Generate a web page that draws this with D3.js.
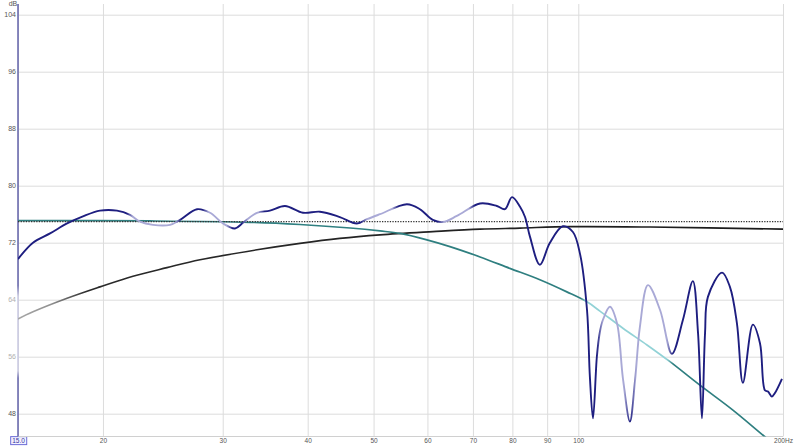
<!DOCTYPE html>
<html><head><meta charset="utf-8">
<script src="https://cdn.jsdelivr.net/npm/d3@7"></script>
<style>
body{margin:0;background:#fff}
svg{display:block}
text{font-family:"Liberation Sans",Arial,sans-serif}
</style>
</head><body>
<svg id="c" width="800" height="447"></svg>
<script>
// ---------- data ----------
const xTicks = [15, 20, 30, 40, 50, 60, 70, 80, 90, 100, 200];
const xTickLabels = ["15.0", "20", "30", "40", "50", "60", "70", "80", "90", "100", "200Hz"];
const yTicks = [48, 56, 64, 72, 80, 88, 96, 104];
const yUnit = "dB";

const mainFreq = [15,15.78,16.72,17.71,18.69,19.8,20.97,21.92,22.67,23.69,25.1,25.96,27.5,28.74,30.03,31.27,32.13,33.69,35.2,37.04,39.37,41.7,44.6,47.26,48.9,51.1,55.98,58.5,61.1,63.2,66.3,71.7,75.9,78,79.9,82.1,83.5,84.9,87.8,90.8,94.9,98.2,100.6,103,104,105.1,106.5,107.6,108.7,111.3,114,116.3,119.1,121.2,123.2,126.6,131.9,137.3,142.5,147.4,150,152,153.6,155.1,162.7,167.1,171.1,174.6,180.6,185,188.1,190.1,192.6,194.6,199.3];
const mainDb = [69.7,72.0,73.3,74.7,75.7,76.5,76.5,75.9,74.95,74.5,74.5,75.2,76.7,76.2,74.7,74.0,74.8,76.2,76.5,77.15,76.2,76.35,75.6,74.7,75.3,76.0,77.4,76.7,75.2,74.9,75.75,77.5,77.15,76.7,78.4,77.05,75.6,72.85,68.9,71.95,74.3,73.5,70.4,62.55,53.2,47.35,56.0,59.5,61.15,63.0,60.7,53.0,46.9,52.7,60.2,66.05,62.55,56.4,61.15,66.6,59.3,47.35,59.3,64.4,67.8,65.8,60.7,52.35,60.5,57.9,51.3,51.1,50.4,50.9,52.9];

const tealFreq = [15,23.45,32.9,38.97,46.2,51.1,54.7,59.9,64.75,71.7,79.3,87.8,96.2,103,107.6,116.3,126.2,136.4,150.96,168.8,187.5,200];
const tealDb = [75.1,75.05,74.86,74.55,74.06,73.65,73.3,72.4,71.45,70.0,68.4,66.8,65.1,63.7,62.4,60.0,57.65,55.3,52.0,48.5,44.87,42.7];

const blackFreq = [15,15.78,17.71,19.8,22.14,24.84,27.78,33.69,38.97,44.6,51.1,61.1,71.7,82.1,97.2,127.5,200];
const blackDb = [61.3,62.3,64.2,65.8,67.3,68.5,69.6,71.0,71.9,72.6,73.1,73.55,73.9,74.05,74.25,74.2,73.9];

const refLevel = 74.95;

// ---------- styling ----------
const mainLight = [[21.9,25.8],[28.3,30.7],[32.3,34.2],[48.4,53.8],[62.8,69.7],[107.6,118],[120.3,136.4]];
const tealLight = [[101.8,136.4]];
const fadedYLabels = [64, 56];

// ---------- layout ----------
const X0 = 18, X1 = 783, Y0 = 4, Y1 = 436.5;
const x = d3.scaleLog().domain([15, 200]).range([X0, X1]);
const y = d3.scaleLinear().domain([44.8, 105.5]).range([Y1, Y0]);

const svg = d3.select("#c");
const defs = svg.append("defs");
defs.append("clipPath").attr("id", "plot")
  .append("rect").attr("x", X0).attr("y", Y0).attr("width", X1 - X0).attr("height", Y1 - Y0);

function grad(id, base, light, ranges) {
  const g = defs.append("linearGradient").attr("id", id)
    .attr("gradientUnits", "userSpaceOnUse")
    .attr("x1", X0).attr("x2", X1).attr("y1", 0).attr("y2", 0);
  const st = [[0, base]];
  const W = X1 - X0;
  ranges.forEach(([a, b]) => {
    const o1 = (x(a) - X0) / W, o2 = (x(b) - X0) / W;
    st.push([o1 - 0.004, base], [o1 + 0.004, light], [o2 - 0.004, light], [o2 + 0.004, base]);
  });
  st.push([1, base]);
  st.forEach(([o, c]) => g.append("stop").attr("offset", Math.max(0, Math.min(1, o))).attr("stop-color", c));
}
grad("gMain", "#1e1e80", "#a9a9d6", mainLight);
grad("gTeal", "#2f7f80", "#92d2d6", tealLight);
const gb = defs.append("linearGradient").attr("id", "gBlack")
  .attr("gradientUnits", "userSpaceOnUse").attr("x1", X0).attr("x2", X1).attr("y1", 0).attr("y2", 0);
gb.append("stop").attr("offset", 0).attr("stop-color", "#a8a8a8");
gb.append("stop").attr("offset", (x(16.8) - X0) / (X1 - X0)).attr("stop-color", "#909090");
gb.append("stop").attr("offset", (x(19) - X0) / (X1 - X0)).attr("stop-color", "#2a2a2a");
gb.append("stop").attr("offset", 1).attr("stop-color", "#1a1a1a");

const ga = defs.append("linearGradient").attr("id", "gAxis")
  .attr("gradientUnits", "userSpaceOnUse").attr("x1", 0).attr("x2", 0).attr("y1", Y0).attr("y2", Y1);
[[0, "#6262aa"], [(y(66) - Y0) / (Y1 - Y0), "#6262aa"], [(y(64.5) - Y0) / (Y1 - Y0), "#c9c9e2"],
 [(y(54) - Y0) / (Y1 - Y0), "#c9c9e2"], [(y(53) - Y0) / (Y1 - Y0), "#6262aa"], [1, "#6262aa"]]
  .forEach(([o, c]) => ga.append("stop").attr("offset", o).attr("stop-color", c));

// ---------- grid & axes ----------
const yAxis = svg.append("g").attr("transform", `translate(${X0},0)`)
  .call(d3.axisLeft(y).tickValues(yTicks).tickSize(-(X1 - X0)).tickPadding(2).tickFormat(d3.format("d")));
yAxis.select(".domain").remove();
yAxis.selectAll(".tick line").attr("stroke", "#dcdcdc").attr("stroke-width", 1);
yAxis.selectAll(".tick text").attr("font-size", 7)
  .attr("fill", d => fadedYLabels.includes(d) ? "#b0b0b0" : "#555")
  .attr("font-family", "Liberation Sans, Arial, sans-serif");

const xAxis = svg.append("g").attr("transform", `translate(0,${Y1})`)
  .call(d3.axisBottom(x).tickValues(xTicks).tickSize(-(Y1 - Y0)).tickPadding(2)
    .tickFormat((d, i) => xTickLabels[i]));
xAxis.select(".domain").remove();
xAxis.selectAll(".tick line").attr("stroke", "#dcdcdc").attr("stroke-width", 1);
xAxis.selectAll(".tick text").attr("font-size", 6.5).attr("fill", "#555")
  .attr("font-family", "Liberation Sans, Arial, sans-serif");

// bottom frame
svg.append("line").attr("x1", X0).attr("x2", X1).attr("y1", Y1).attr("y2", Y1)
  .attr("stroke", "#d0d0d0");

// box around start label
const firstTick = xAxis.selectAll(".tick").filter((d, i) => i === 0);
const ft = firstTick.select("text").attr("fill", "#3434a0").node();
const bb = ft.getBBox();
firstTick.insert("rect", "text")
  .attr("x", bb.x - 1.5).attr("y", bb.y - 0.5).attr("width", bb.width + 3).attr("height", bb.height + 1)
  .attr("fill", "#f2f2ff").attr("stroke", "#6d6dd8").attr("stroke-width", 1);

// unit label
svg.append("text").attr("x", 13).attr("y", 5.5).attr("text-anchor", "middle")
  .attr("font-size", 7).attr("fill", "#555").text(yUnit);

// left axis line
svg.append("line").attr("x1", X0).attr("x2", X0).attr("y1", Y0).attr("y2", Y1)
  .attr("stroke", "url(#gAxis)").attr("stroke-width", 1.5);

// ---------- curves ----------
const plot = svg.append("g").attr("clip-path", "url(#plot)");
const line = d3.line().x(d => x(d[0])).y(d => y(d[1])).curve(d3.curveCatmullRom.alpha(0.5));

plot.append("path").datum(blackFreq.map((f, i) => [f, blackDb[i]]))
  .attr("d", line).attr("fill", "none").attr("stroke", "url(#gBlack)").attr("stroke-width", 1.6);

plot.append("path").datum(tealFreq.map((f, i) => [f, tealDb[i]]))
  .attr("d", line).attr("fill", "none").attr("stroke", "url(#gTeal)").attr("stroke-width", 1.7);

plot.append("line").attr("x1", x(15)).attr("x2", x(200)).attr("y1", y(refLevel)).attr("y2", y(refLevel))
  .attr("stroke", "#333").attr("stroke-width", 1.3).attr("stroke-dasharray", "1.3,1.3");

plot.append("path").datum(mainFreq.map((f, i) => [f, mainDb[i]]))
  .attr("d", line).attr("fill", "none").attr("stroke", "url(#gMain)").attr("stroke-width", 1.9)
  .attr("stroke-linejoin", "round");
</script>
</body></html>
